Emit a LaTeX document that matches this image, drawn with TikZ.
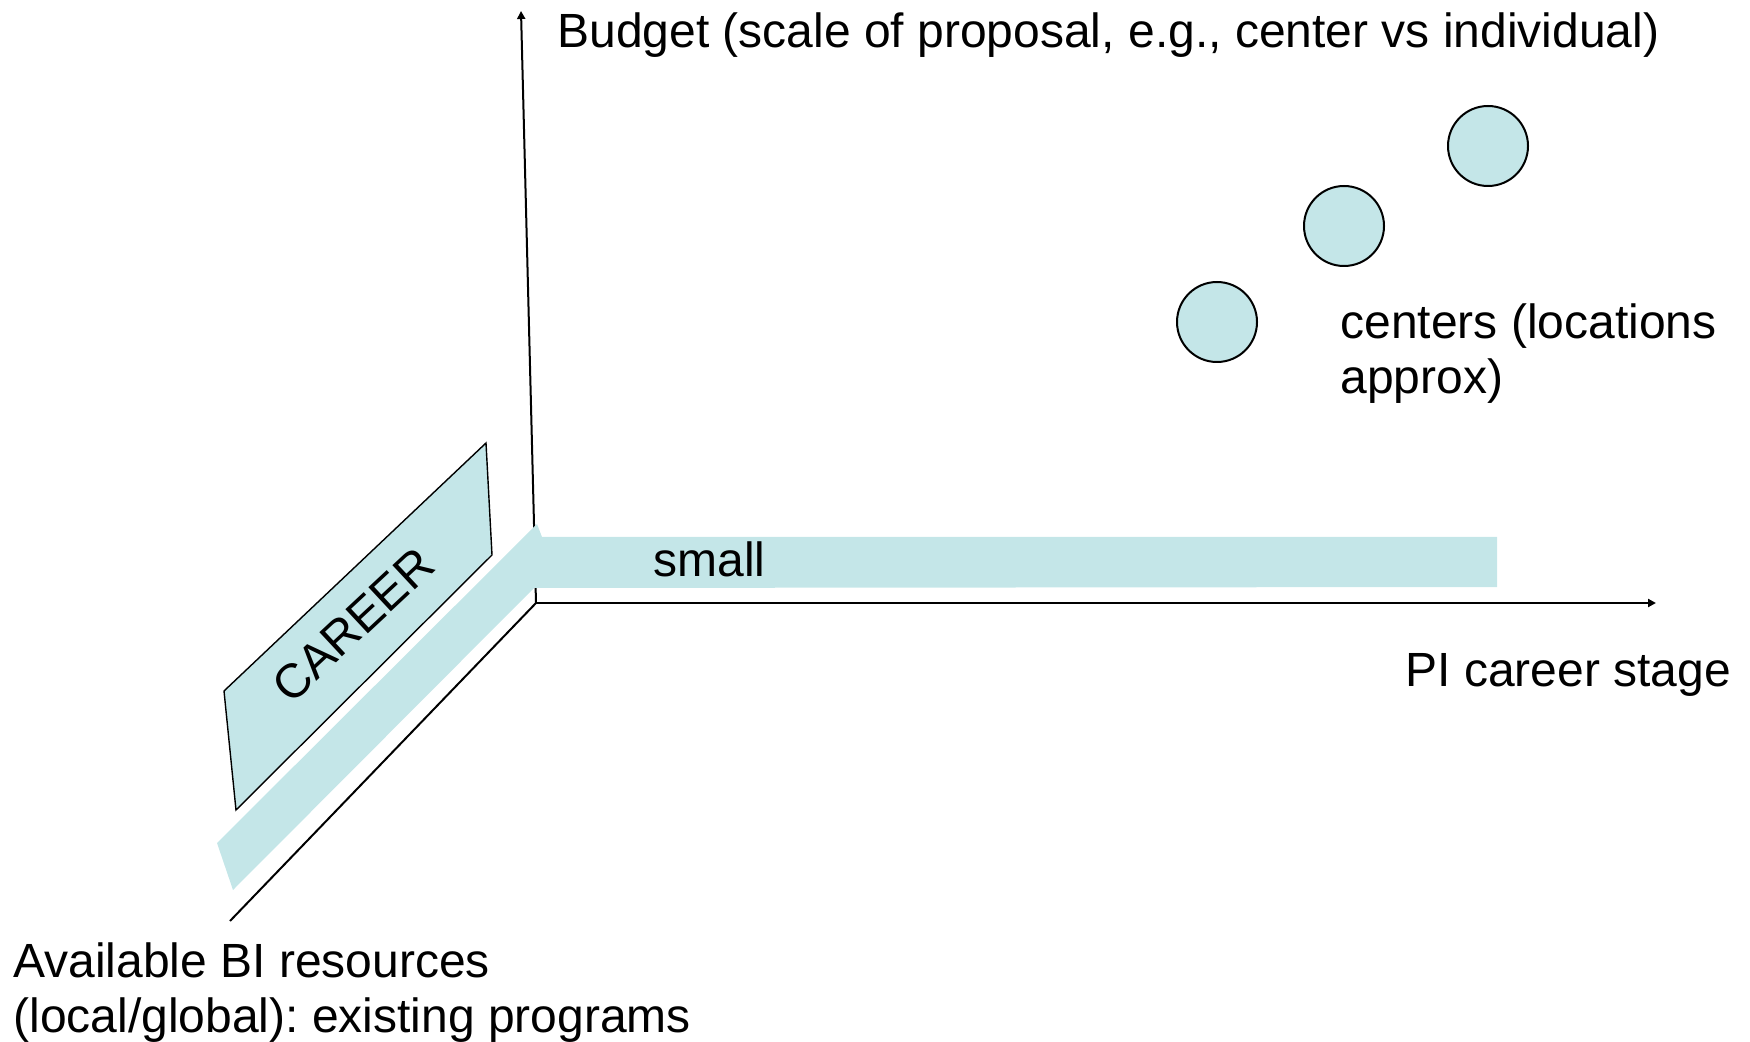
\documentclass[tikz,border=0pt]{standalone}
\usepackage{fontspec}
\setmainfont{Liberation Sans}
\usetikzlibrary{arrows.meta}
\definecolor{lightband}{RGB}{196,230,232}
\frenchspacing
\tikzset{
  axis/.style={draw=black, line width=1pt},
  lbl/.style={inner sep=0pt, anchor=base west, font=\fontsize{24}{27.5}\selectfont\frenchspacing, align=left},
  center/.style={circle, draw=black, line width=1pt, fill=lightband, minimum size=40pt, inner sep=0pt},
}
\begin{document}
\begin{tikzpicture}[x=0.5pt, y=-0.5pt]
\useasboundingbox (0,0) rectangle (1750,1042);
% axis coordinates
\coordinate (O) at (536,603);
\coordinate (Ytop) at (521,11);
\coordinate (Xend) at (1656,603);
\coordinate (Zend) at (230,921);
% axes
\draw[axis, -{Triangle[length=4pt,width=4pt]}] (O) -- (Ytop);
\draw[axis, -{Triangle[length=4pt,width=4pt]}] (O) -- (Xend);
\draw[axis] (O) -- (Zend);
% band
\fill[lightband] (217,843) -- (537,524) -- (542,537) -- (1497,537) -- (1497,587) -- (534,588) -- (233,890) -- cycle;
% CAREER plane
\filldraw[fill=lightband, draw=black, line width=0.7pt] (486,443) -- (492,555) -- (236,810) -- (224,691) -- cycle;
\node[inner sep=0pt, font=\fontsize{24}{27.5}\selectfont, rotate=43] (career) at (353,625) {CAREER};
% circles
\node[center] (c1) at (1217,322) {};
\node[center] (c2) at (1344,226) {};
\node[center] (c3) at (1488,146) {};
% labels
\node[lbl] (budget) at (557,48) {Budget (scale of proposal, e.g., center vs individual)};
\node[lbl] (pistage) at (1405,686) {PI career stage};
\node[lbl] (small) at (653,576) {small};
\node[lbl] (centers) at (1340,394) {centers (locations\\approx)};
\node[lbl] (avail) at (13,1032) {Available BI resources\\(local/global): existing programs};
\end{tikzpicture}
\end{document}
